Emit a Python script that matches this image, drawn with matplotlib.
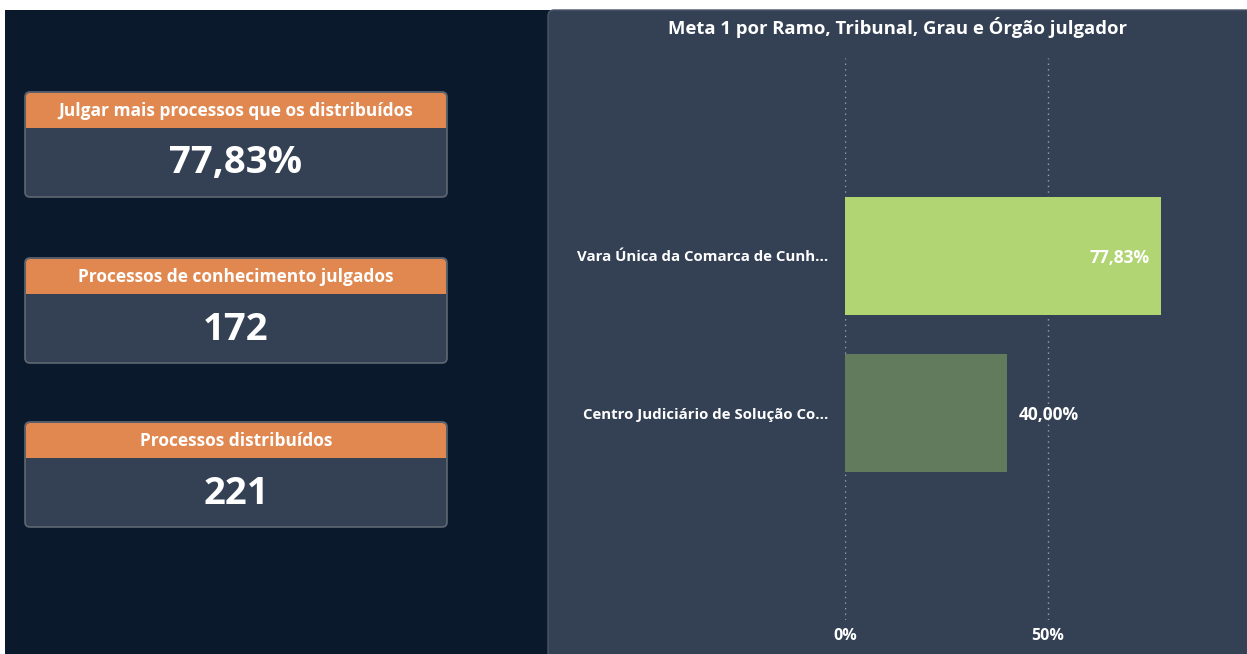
import matplotlib
matplotlib.use("Agg")
import matplotlib.pyplot as plt
from matplotlib.patches import FancyBboxPatch, Rectangle

# ---- data ----
card_titles = ["Julgar mais processos que os distribuídos",
               "Processos de conhecimento julgados",
               "Processos distribuídos"]
card_values = ["77,83%", "172", "221"]

chart_title = "Meta 1 por Ramo, Tribunal, Grau e Órgão julgador"
categories = ["Vara Única da Comarca de Cunh...",
              "Centro Judiciário de Solução Co..."]
values = [77.83, 40.00]
value_labels = ["77,83%", "40,00%"]
x_ticks = [0, 50]
x_tick_labels = ["0%", "50%"]

# ---- style ----
W, H = 1247, 654
NAVY = "#0a192b"
PANEL = "#344154"
ORANGE = "#e08850"
BORDER = "#5f6673"
BAR_COLORS = ["#b0d572", "#637b5d"]
FONT = ["Open Sans", "DejaVu Sans"]
plt.rcParams["font.family"] = FONT

fig = plt.figure(figsize=(W / 100, H / 100), dpi=100)
fig.patch.set_facecolor("white")

bg = fig.add_axes([0, 0, 1, 1])
bg.set_xlim(0, W)
bg.set_ylim(H, 0)
bg.axis("off")

# dark navy background
bg.add_patch(Rectangle((5, 10), W - 5, H - 10, facecolor=NAVY, edgecolor="none"))
# right panel
bg.add_patch(FancyBboxPatch((548, 10), W - 548 + 10, H, boxstyle="round,pad=0,rounding_size=6",
                            facecolor=PANEL, edgecolor="#4a5568", linewidth=1))

# cards
card_tops = [92, 258, 422]
card_left, card_right = 25, 447
header_h = 36
card_h = 105
for top, ttl, val in zip(card_tops, card_titles, card_values):
    bg.add_patch(FancyBboxPatch((card_left, top), card_right - card_left, card_h,
                                boxstyle="round,pad=0,rounding_size=5",
                                facecolor=PANEL, edgecolor=BORDER, linewidth=1.2))
    bg.add_patch(FancyBboxPatch((card_left + 1, top + 1), card_right - card_left - 2, header_h + 8,
                                boxstyle="round,pad=0,rounding_size=4",
                                facecolor=ORANGE, edgecolor="none"))
    bg.add_patch(Rectangle((card_left + 1, top + header_h), card_right - card_left - 2, 30,
                           facecolor=PANEL, edgecolor="none"))
    cx = (card_left + card_right) / 2
    bg.text(cx, top + header_h / 2 + 1, ttl, ha="center", va="center", color="white",
            fontsize=12.5, fontweight="bold")
    bg.text(cx, top + header_h + (card_h - header_h) / 2 + 1, val, ha="center", va="center",
            color="white", fontsize=27.5, fontweight="bold")

# chart title
bg.text(898, 27, chart_title, ha="center", va="center", color="white",
        fontsize=13.3, fontweight="bold")

# ---- bar chart axes ----
ax_left, ax_right = 845, 1231
ax_top, ax_bottom = 58, 620
ax = fig.add_axes([ax_left / W, 1 - ax_bottom / H, (ax_right - ax_left) / W, (ax_bottom - ax_top) / H])
ax.set_facecolor("none")
xmax = (ax_right - ax_left) / ((1048 - 845) / 50)
ax.set_xlim(0, xmax)
c0, c1 = 256, 413
step = c1 - c0
ax.set_ylim((ax_bottom - c0) / step, (ax_top - c0) / step)

ypos = list(range(len(categories)))
ax.barh(ypos, values, height=118 / step, color=BAR_COLORS, edgecolor="none", zorder=2)

for xv in x_ticks:
    ax.axvline(xv, color="#9aa3ae", linestyle=(0, (1, 3)), linewidth=1, zorder=1)

for sp in ax.spines.values():
    sp.set_visible(False)
ax.set_xticks(x_ticks)
ax.set_xticklabels(x_tick_labels, color="white", fontsize=11.5, fontweight="bold")
ax.tick_params(axis="x", length=0, pad=6)
ax.set_yticks(ypos)
ax.set_yticklabels(categories, color="white", fontsize=10.8, fontweight="bold")
ax.tick_params(axis="y", length=0, pad=12)

# value labels
for i, (v, lab) in enumerate(zip(values, value_labels)):
    if v > 60:
        ax.text(v - 2.7, i + 0.015, lab, ha="right", va="center", color="white",
                fontsize=12.5, fontweight="bold")
    else:
        ax.text(v + 2.7, i + 0.015, lab, ha="left", va="center", color="white",
                fontsize=12.5, fontweight="bold")

fig.savefig("out.png", dpi=100, facecolor=fig.get_facecolor())
